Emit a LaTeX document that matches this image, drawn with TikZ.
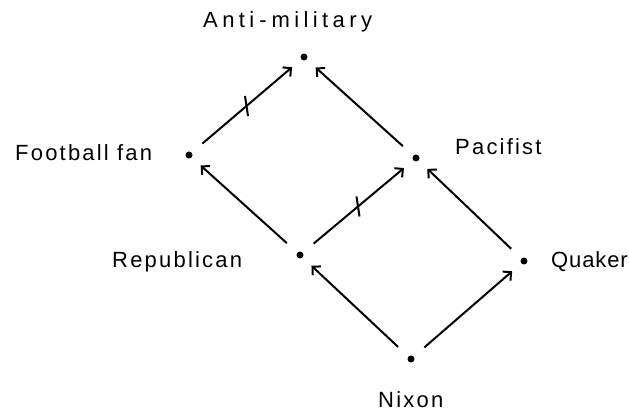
\documentclass[tikz,border=0pt]{standalone}
\usepackage{fontspec}
\usepackage{tikz}
\usetikzlibrary{arrows.meta,positioning,calc}
\newfontfamily\hand[LetterSpace=10]{Liberation Sans}
\newfontfamily\handwide[LetterSpace=20]{Liberation Sans}
\newfontfamily\handtight[LetterSpace=4]{Liberation Sans}

\begin{document}
\begin{tikzpicture}[x=1pt,y=-1pt,
  dot/.style={circle,fill=black,minimum size=7pt,inner sep=0pt},
  lbl/.style={anchor=base west,inner sep=0pt,font=\hand\fontsize{22}{26}\selectfont},
  link/.style={-{Straight Barb[length=6pt,width=12pt]},line width=2pt,
    shorten <=14pt,shorten >=12pt},
  cross/.style={line width=2pt}]
  \useasboundingbox (0,0) rectangle (629,411);
  % individuals and classes
  \node[dot] (am) at (304,57) {};
  \node[dot] (ff) at (189,155) {};
  \node[dot] (pac) at (416,158) {};
  \node[dot] (rep) at (300,255) {};
  \node[dot] (qua) at (524,261) {};
  \node[dot] (nix) at (411,359) {};
  \node[lbl,font=\handwide\fontsize{22}{26}\selectfont] (amlbl) at (203,28) {Anti\kern5pt-\kern5pt military};
  \node[lbl] (fflbl) at (15,161) {Football fan};
  \node[lbl] (paclbl) at (455,155) {Pacifist};
  \node[lbl] (replbl) at (112,268) {Republican};
  \node[lbl,font=\handtight\fontsize{22}{26}\selectfont] (qualbl) at (551,268) {Quaker};
  \node[lbl] (nixlbl) at (378,407) {Nixon};
  % is-a links
  \draw[link] (nix) -- (rep);
  \draw[link] (nix) -- (qua);
  \draw[link] (rep) -- (ff);
  \draw[link] (qua) -- (pac);
  \draw[link] (pac) -- (am);
  % is-not-a links
  \draw[link] (ff) -- coordinate[midway] (ffam) (am);
  \draw[link] (rep) -- coordinate[midway] (reppac) (pac);
  \draw[cross] ($(ffam)+(-1.5,-10)$) -- ($(ffam)+(1.5,10)$);
  \draw[cross] ($(reppac)+(-1.5,-10)$) -- ($(reppac)+(1.5,10)$);
\end{tikzpicture}
\end{document}
